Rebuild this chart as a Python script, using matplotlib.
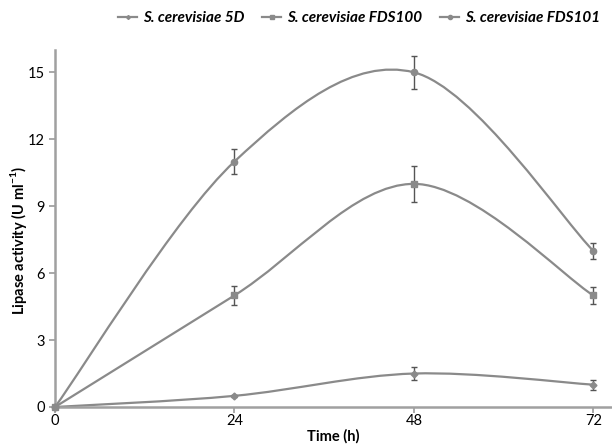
import numpy as np
import matplotlib.pyplot as plt
from matplotlib.path import Path
from matplotlib.patches import PathPatch
from matplotlib.lines import Line2D

plt.rcParams['font.family'] = ['Lato', 'DejaVu Sans']

# data
time_h = [0, 24, 48, 72]
names = ['S. cerevisiae 5D', 'S. cerevisiae FDS100', 'S. cerevisiae FDS101']
act_5d = [0, 0.5, 1.5, 1.0]
err_5d = [0, 0.05, 0.3, 0.22]
act_fds100 = [0, 5.0, 10.0, 5.0]
err_fds100 = [0, 0.42, 0.8, 0.4]
act_fds101 = [0, 11.0, 15.0, 7.0]
err_fds101 = [0, 0.55, 0.75, 0.36]

series = [(act_5d, err_5d, 'D', 3.5),
          (act_fds100, err_fds100, 's', 4.5),
          (act_fds101, err_fds101, 'o', 4.5)]

line_c = '#8a8a8a'
err_c = '#555555'


def smooth_path(x, y):
    # Excel-style smoothed line: cubic Bezier segments through the points
    pts = np.column_stack([x, y]).astype(float)
    ext = np.vstack([pts[0], pts, pts[-1]])
    verts = [pts[0]]
    codes = [Path.MOVETO]
    for i in range(1, len(ext) - 2):
        p0, p1, p2, p3 = ext[i - 1], ext[i], ext[i + 1], ext[i + 2]
        verts += [p1 + (p2 - p0) / 6, p2 - (p3 - p1) / 6, p2]
        codes += [Path.CURVE4] * 3
    return Path(verts, codes)


fig = plt.figure(figsize=(6.12, 4.46), dpi=100)
ax = fig.add_axes([55 / 612, 39 / 446, 557 / 612, 357 / 446])

handles = []
for (vals, errs, mk, ms), name in zip(series, names):
    ax.add_patch(PathPatch(smooth_path(time_h, vals), fill=False,
                           edgecolor=line_c, lw=1.6, zorder=2))
    ax.errorbar(time_h, vals, yerr=errs, fmt='none', ecolor=err_c,
                elinewidth=1.0, capsize=2.5, capthick=1.0, zorder=3)
    ax.plot(time_h, vals, ls='none', marker=mk, ms=ms, color=line_c,
            zorder=4, clip_on=False)
    handles.append(Line2D([], [], color=line_c, lw=1.6, marker=mk,
                          ms=ms - 1.5, label=name))

ax.set_xlim(0, 74.5)
ax.set_ylim(0, 16.0)
ax.set_xticks([0, 24, 48, 72])
ax.set_yticks([0, 3, 6, 9, 12, 15])
ax.tick_params(axis='both', colors='#999999', labelcolor='black',
               labelsize=10.5, length=4, width=1.2)
ax.tick_params(axis='x', pad=1)
for s in ['top', 'right']:
    ax.spines[s].set_visible(False)
for s in ['left', 'bottom']:
    ax.spines[s].set_color('#a0a0a0')
    ax.spines[s].set_linewidth(1.8)

ax.set_xlabel('Time (h)', fontweight='bold', fontsize=10.5, labelpad=1)
ax.set_ylabel('Lipase activity (U ml$^{\\mathregular{-1}}$)', fontweight='bold',
              fontsize=10.5)
ax.yaxis.set_label_coords((29 - 55) / 557, (407 - 241) / 357)

fig.legend(handles=handles, loc='center', ncol=3, frameon=False,
           bbox_to_anchor=(359 / 612, 1 - 18 / 446), handlelength=1.25,
           handletextpad=0.35, columnspacing=1.2,
           prop={'weight': 'bold', 'style': 'italic', 'size': 11})

fig.savefig('out.png', dpi=100)
